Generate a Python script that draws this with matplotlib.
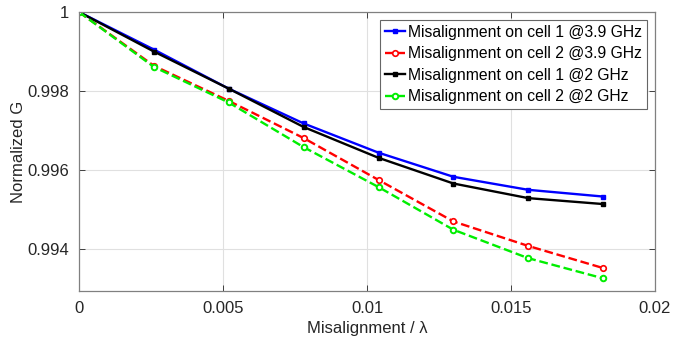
import matplotlib
matplotlib.use("Agg")
import matplotlib.pyplot as plt
from matplotlib.ticker import FuncFormatter

plt.rcParams['font.family'] = ['Liberation Sans', 'DejaVu Sans']

x = [0, 0.0026, 0.0052, 0.0078, 0.0104, 0.013, 0.0156, 0.0182]
cell1_39 = [1.0, 0.99905, 0.99806, 0.99718, 0.99644, 0.99583, 0.99550, 0.99533]
cell2_39 = [1.0, 0.99864, 0.99775, 0.99681, 0.99575, 0.99470, 0.99408, 0.99352]
cell1_2 = [1.0, 0.99900, 0.99806, 0.99709, 0.99631, 0.99566, 0.99529, 0.99514]
cell2_2 = [1.0, 0.99861, 0.99771, 0.99658, 0.99557, 0.99449, 0.99377, 0.99326]

labels = ['Misalignment on cell 1 @3.9 GHz', 'Misalignment on cell 2 @3.9 GHz',
          'Misalignment on cell 1 @2 GHz', 'Misalignment on cell 2 @2 GHz']
xticks = [0, 0.005, 0.01, 0.015, 0.02]
yticks = [0.994, 0.996, 0.998, 1.0]

fig = plt.figure(figsize=(6.73, 3.45), dpi=100)
ax = fig.add_axes([79/673, 1-291/345, (655-79)/673, (291-12)/345])

ax.plot(x, cell1_39, '-', color='#0000ff', marker='s', ms=3.5, lw=1.7, label=labels[0])
ax.plot(x, cell2_39, '--', color='#ff0000', marker='o', ms=4, mfc='white', mew=1.2, lw=1.7, label=labels[1])
ax.plot(x, cell1_2, '-', color='black', marker='s', ms=3.5, lw=1.7, label=labels[2])
ax.plot(x, cell2_2, '--', color='#00ee00', marker='o', ms=4, mfc='white', mew=1.4, lw=1.7, label=labels[3])

ax.set_xlim(0, 0.02)
ax.set_ylim(0.99294, 1.0)
ax.set_xticks(xticks)
ax.set_yticks(yticks)
ax.xaxis.set_major_formatter(FuncFormatter(lambda v, p: '%g' % round(v, 6)))
ax.yaxis.set_major_formatter(FuncFormatter(lambda v, p: '%g' % round(v, 6)))
ax.tick_params(direction='in', top=True, right=True, labelsize=12, colors='#262626', length=4, width=0.6, pad=7)
ax.grid(True, color='#e0e0e0', lw=0.8)
for s in ax.spines.values():
    s.set_color('#808080')
    s.set_linewidth(0.9)

ax.set_xlabel('Misalignment / λ', fontsize=12, color='#262626', labelpad=4)
ax.set_ylabel('Normalized G', fontsize=12, color='#262626', labelpad=1)

leg = ax.legend(loc='upper right', fontsize=11.3, frameon=True, fancybox=False,
                edgecolor='#666666', framealpha=1, handlelength=1.3, handletextpad=0.2,
                labelspacing=0.42, borderpad=0.3, borderaxespad=0.5)
leg.get_frame().set_linewidth(0.8)

fig.savefig('out.png', dpi=100)
